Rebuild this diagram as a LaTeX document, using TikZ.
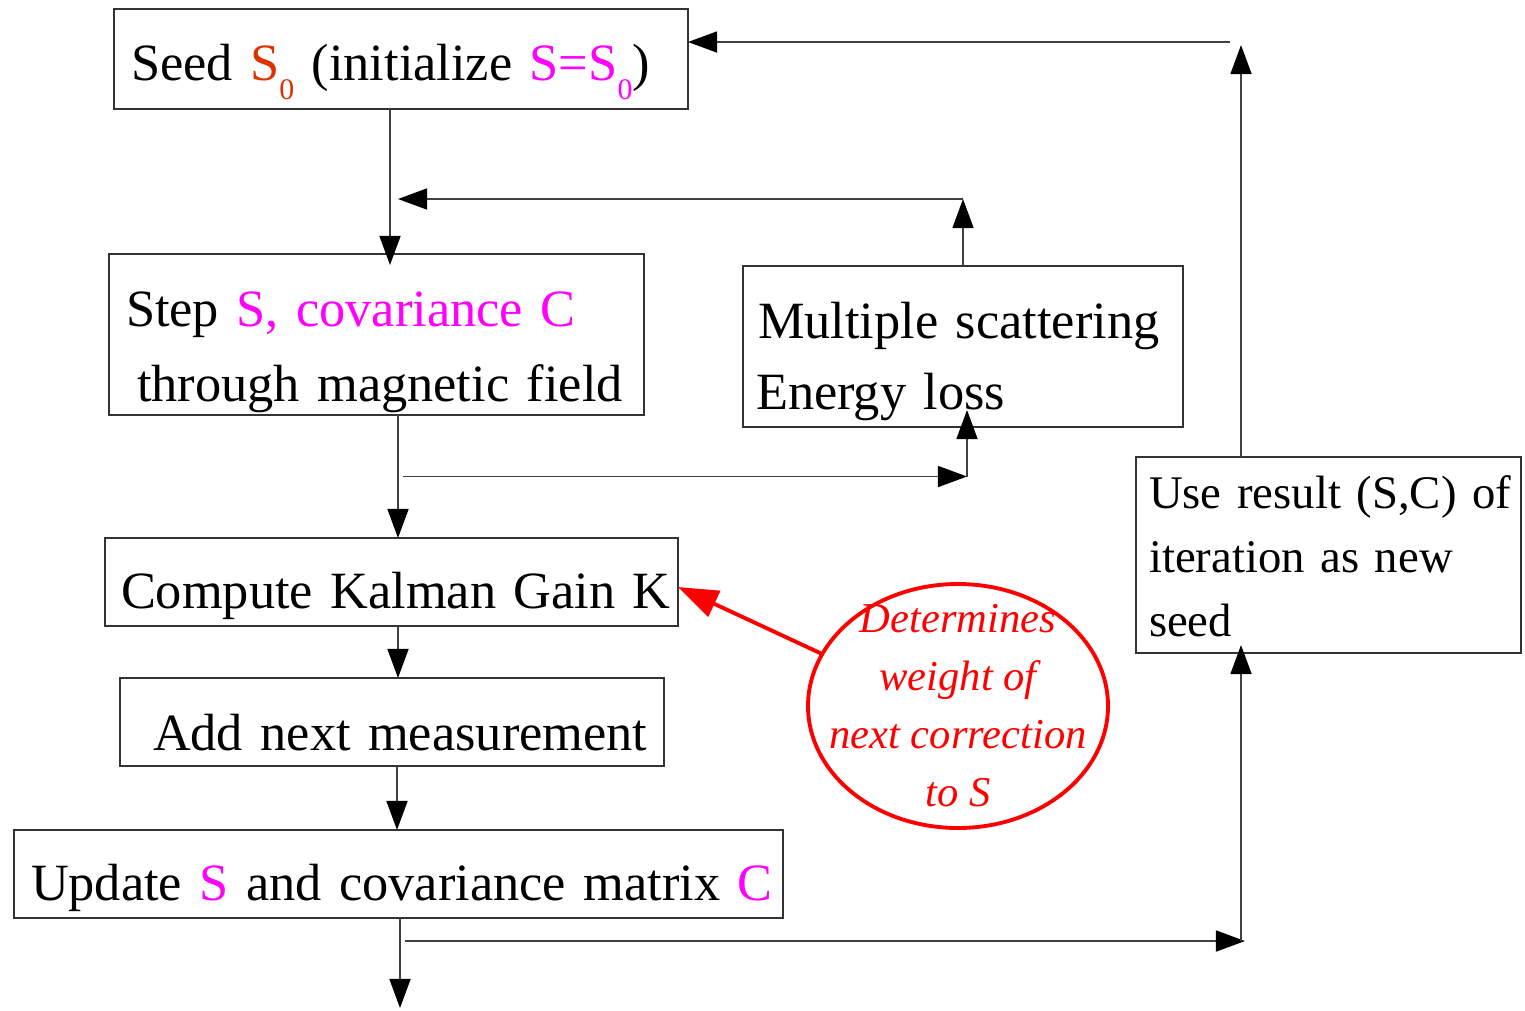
\documentclass[tikz,border=0pt]{standalone}
\usepackage[dvipsnames]{xcolor}
\usepackage{fontspec}
\setmainfont{Liberation Serif}
\usepackage{tikz}
\usetikzlibrary{positioning,arrows.meta,shapes.geometric,calc}
\definecolor{seedcol}{RGB}{222,50,0}
\definecolor{hlmag}{RGB}{255,0,255}
\newcommand{\subidx}[1]{\raisebox{-5.6pt}{\fontsize{8.5pt}{8.5pt}\selectfont #1}}
\tikzset{
  box/.style={rectangle, draw=black!80, line width=0.5pt, anchor=north west, align=left,
              inner sep=0pt, outer sep=0pt, font=\fontsize{14.9pt}{21.3pt}\selectfont},
  arr/.style={-{Triangle[length=8.3pt, width=6pt, color=black]}, draw=black!75, line width=0.45pt},
  note/.style={ellipse, draw=red, line width=1.1pt, inner sep=-0.25cm, align=center, text=red,
               font=\fontsize{12.1pt}{16.5pt}\selectfont\itshape},
  redarr/.style={-{Triangle[length=11.4pt, width=8pt]}, draw=red, line width=1.1pt},
}

\begin{document}
\begin{tikzpicture}
  \useasboundingbox (0,0) rectangle (15.25,-10.10);

  \node[box, text width=5.74cm, minimum height=1.00cm, text height=0.42cm, text depth=0pt] (seed) at (1.14,-0.09)
    {\hspace*{0.17cm}Seed \textcolor{seedcol}{S\subidx{0}} (initialize \textcolor{hlmag}{S=S\subidx{0}})};
  \node[box, text width=5.35cm, minimum height=1.61cm] (step) [below=1.45cm of seed.south west, anchor=north west, xshift=-0.05cm]
    {\rule{0pt}{0.70cm}\hspace*{0.17cm}Step \textcolor{hlmag}{S, covariance C}\\\hspace*{0.28cm}through magnetic field};
  \node[box, text width=4.40cm, minimum height=1.61cm, font=\fontsize{14.9pt}{20.4pt}\selectfont] (scatter) [right=0.99cm of step.north east, anchor=north west, yshift=-0.12cm]
    {\rule{0pt}{0.66cm}\hspace*{0.15cm}Multiple scattering\\\hspace*{0.13cm}Energy loss};
  \node[box, text width=5.73cm, minimum height=0.88cm, text height=0.52cm, text depth=0pt] (kalman) [below=1.23cm of step.south west, anchor=north west, xshift=-0.04cm]
    {\hspace*{0.16cm}Compute Kalman Gain K};
  \node[box, text width=5.44cm, minimum height=0.88cm, text height=0.56cm, text depth=0pt] (measure) [below=0.52cm of kalman.south west, anchor=north west, xshift=0.15cm]
    {\hspace*{0.33cm}Add next measurement};
  \node[box, text width=7.69cm, minimum height=0.88cm, text height=0.52cm, text depth=0pt] (update) [below=0.64cm of measure.south west, anchor=north west, xshift=-1.06cm]
    {\hspace*{0.17cm}Update \textcolor{hlmag}{S} and covariance matrix \textcolor{hlmag}{C}};
  \node[box, text width=3.85cm, minimum height=1.96cm, font=\fontsize{13.3pt}{18.2pt}\selectfont] (reuse) [below=0.30cm of scatter.south east, anchor=north west, xshift=-0.47cm]
    {\rule{0pt}{0.36cm}\hspace*{0.13cm}Use result (S,C) of\\\hspace*{0.13cm}iteration as new\\\hspace*{0.13cm}seed};
  \node[note, minimum width=3.0cm, minimum height=2.44cm] (note) at (9.58,-7.06)
    {Determines\\weight of\\next correction\\to S};

  % main chain
  \coordinate (c1) at ([xshift=0.065cm]kalman.north);
  \coordinate (c2) at ([xshift=0.04cm]scatter.south);
  \coordinate (c3) at ([xshift=1.05cm]reuse.south west);
  \coordinate (mid1) at ($(step.south)!0.5!(kalman.north)$);
  \coordinate (mid2) at ([yshift=-0.23cm]update.south);
  \coordinate (exit) at ([yshift=-0.90cm]c1 |- update.south);

  \draw[arr, shorten >=-0.11cm] ([xshift=-0.11cm]seed.south) -- ([xshift=-0.11cm]seed.south |- step.north);
  \draw[arr] (c1 |- step.south) -- (c1);
  \draw[arr] (c1 |- kalman.south) -- (c1 |- measure.north);
  \draw[arr] ([xshift=-0.01cm]c1 |- measure.south) -- ([xshift=-0.01cm]c1 |- update.north);
  \draw[arr] ([xshift=0.02cm]c1 |- update.south) -- ([xshift=0.02cm]exit);

  % scattering loop
  \draw[arr] ([xshift=0.05cm]c1 |- mid1) -- (c2 |- mid1);
  \draw[arr, shorten >=-0.17cm] (c2 |- mid1) -- (c2);
  \draw[arr] (scatter.north) -- ++(0,0.67) coordinate (msup);
  \draw[arr] (msup) -- ([xshift=-0.03cm]seed.south |- msup);

  % new seed loop
  \draw[arr] ([xshift=0.07cm]c1 |- mid2) -- ([xshift=0.04cm]c3 |- mid2);
  \draw[arr, shorten >=-0.08cm] (c3 |- mid2) -- (c3);
  \draw[arr] (c3 |- reuse.north) -- ([yshift=-0.36cm]c3 |- seed.north);
  \draw[arr] ([xshift=-0.11cm, yshift=-0.33cm]c3 |- seed.north) -- ([yshift=-0.33cm]seed.north east);

  % annotation
  \draw[redarr] (note.159) -- ([yshift=-0.05cm]kalman.east);
\end{tikzpicture}
\end{document}
